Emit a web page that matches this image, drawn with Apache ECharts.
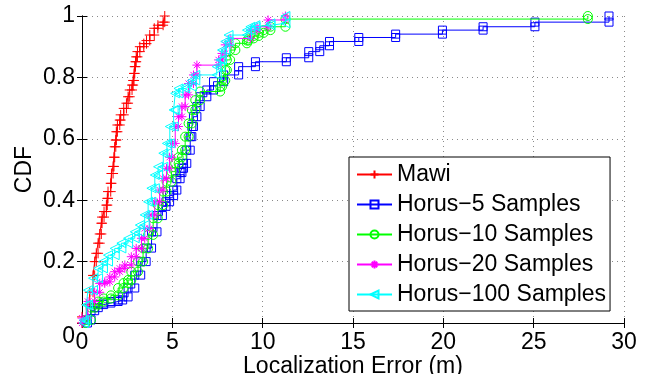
<!DOCTYPE html>
<html>
<head>
<meta charset="utf-8">
<script src="https://cdn.jsdelivr.net/npm/echarts@6/dist/echarts.min.js"></script>
<style>
html,body{margin:0;padding:0;background:#fff;}
#c{width:647px;height:374px;}
</style>
</head>
<body>
<div id="c"></div>
<script>
var seriesNames = ['Mawi', 'Horus\u22125 Samples', 'Horus\u221210 Samples', 'Horus\u221220 Samples', 'Horus\u2212100 Samples'];
var xTicks = [0, 5, 10, 15, 20, 25, 30];
var yTicks = [0, 0.2, 0.4, 0.6, 0.8, 1];

var mawiX = [0, 0.24, 0.43, 0.61, 0.70, 0.79, 0.89, 0.98, 1.07, 1.11, 1.22, 1.35, 1.40, 1.44, 1.59, 1.63, 1.72, 1.77, 1.81, 1.87, 1.90, 1.96, 2.09, 2.14, 2.31, 2.46, 2.55, 2.64, 2.77, 2.83, 2.88, 2.92, 2.96, 3.0, 3.07, 3.2, 3.42, 3.57, 3.75, 4.0, 4.2, 4.49, 4.58];
var mawiY = [0.02, 0.06, 0.10, 0.155, 0.20, 0.227, 0.26, 0.29, 0.325, 0.345, 0.363, 0.384, 0.406, 0.428, 0.455, 0.487, 0.51, 0.54, 0.574, 0.596, 0.623, 0.645, 0.661, 0.678, 0.699, 0.716, 0.737, 0.759, 0.775, 0.79, 0.813, 0.835, 0.851, 0.867, 0.884, 0.90, 0.91, 0.92, 0.938, 0.96, 0.97, 0.98, 1.0];

var h5X = [0.3, 0.5, 0.7, 0.9, 1.2, 1.6, 2.0, 2.25, 2.55, 2.92, 3.25, 3.55, 3.85, 4.15, 4.45, 4.65, 4.85, 5.07, 5.25, 5.43, 5.53, 5.62, 5.8, 5.99, 6.08, 6.17, 6.36, 6.54, 6.91, 7.28, 7.84, 8.67, 9.6, 11.31, 12.55, 13.16, 13.7, 15.32, 17.36, 19.95, 22.2, 25.07, 29.17];
var h5Y = [0.01, 0.04, 0.05, 0.06, 0.065, 0.07, 0.075, 0.085, 0.114, 0.156, 0.2, 0.244, 0.297, 0.35, 0.38, 0.395, 0.415, 0.433, 0.47, 0.49, 0.504, 0.52, 0.563, 0.607, 0.64, 0.672, 0.705, 0.737, 0.759, 0.786, 0.808, 0.835, 0.851, 0.864, 0.884, 0.903, 0.917, 0.93, 0.941, 0.954, 0.965, 0.98, 1.0];

var h10X = [0.2, 0.5, 0.7, 0.9, 1.2, 1.6, 2.0, 2.3, 2.55, 2.73, 3.1, 3.38, 3.66, 3.94, 4.2, 4.49, 4.68, 4.95, 5.16, 5.35, 5.53, 5.71, 5.9, 6.08, 6.27, 6.54, 7.65, 7.75, 7.93, 8.02, 8.2, 8.49, 9.13, 9.22, 9.5, 9.78, 10.05, 10.43, 11.26, 28.0];
var h10Y = [0.01, 0.05, 0.06, 0.07, 0.08, 0.09, 0.114, 0.13, 0.14, 0.167, 0.2, 0.243, 0.287, 0.341, 0.384, 0.428, 0.46, 0.493, 0.52, 0.54, 0.563, 0.607, 0.65, 0.694, 0.726, 0.754, 0.77, 0.79, 0.824, 0.857, 0.889, 0.911, 0.92, 0.927, 0.935, 0.945, 0.954, 0.965, 0.99, 1.0];

var h20X = [0.0, 0.33, 0.7, 0.98, 1.26, 1.54, 1.81, 2.09, 2.37, 2.73, 3.0, 3.29, 3.47, 3.75, 4.03, 4.3, 4.49, 4.68, 4.85, 4.97, 5.16, 5.34, 5.53, 5.71, 5.9, 6.17, 6.36, 7.56, 7.75, 7.93, 8.2, 9.32, 9.69, 10.3, 11.26];
var h20Y = [0.016, 0.07, 0.1, 0.129, 0.134, 0.15, 0.167, 0.178, 0.189, 0.216, 0.243, 0.276, 0.308, 0.352, 0.395, 0.433, 0.471, 0.504, 0.54, 0.585, 0.64, 0.672, 0.705, 0.743, 0.78, 0.808, 0.84, 0.857, 0.878, 0.906, 0.927, 0.954, 0.965, 0.987, 1.0];

var h100X = [0.1, 0.24, 0.33, 0.61, 0.89, 1.16, 1.44, 1.81, 2.18, 2.55, 2.92, 3.2, 3.47, 3.66, 3.84, 4.03, 4.21, 4.5, 4.7, 4.86, 5.07, 5.16, 5.34, 5.71, 6.08, 6.27, 7.46, 7.65, 7.75, 7.93, 8.11, 9.13, 9.32, 9.6, 10.43, 11.26];
var h100Y = [0.01, 0.059, 0.107, 0.146, 0.178, 0.2, 0.221, 0.243, 0.26, 0.276, 0.297, 0.319, 0.352, 0.395, 0.439, 0.482, 0.509, 0.553, 0.585, 0.64, 0.694, 0.748, 0.764, 0.77, 0.79, 0.808, 0.835, 0.857, 0.889, 0.917, 0.938, 0.954, 0.965, 0.97, 0.976, 1.0];

var colors = ['#ff0000', '#0000ff', '#00ff00', '#ff00ff', '#00ffff'];
var symbols = [
  'path://M0,5L10,5M5,0L5,10',
  'rect',
  'circle',
  'path://M5,0L5,10M0,5L10,5M1.6,1.6L8.4,8.4M1.6,8.4L8.4,1.6',
  'path://M0,5L10,0L10,10Z'
];
var sizes = [10, 8, 9, 9, 9];

// CDF stairs: each step adds a vertex at the old and the new level
function stairs(xs, ys) {
  var pts = [];
  for (var i = 0; i < xs.length; i++) {
    pts.push([xs[i], i === 0 ? 0 : ys[i - 1]]);
    pts.push([xs[i], ys[i]]);
  }
  return pts;
}

var allX = [mawiX, h5X, h10X, h20X, h100X];
var allY = [mawiY, h5Y, h10Y, h20Y, h100Y];

var FONT = '"Liberation Sans", Arial, Helvetica, sans-serif';
var FS = 23;

var series = seriesNames.map(function (n, k) {
  return {
    name: n,
    type: 'line',
    xAxisIndex: 0,
    yAxisIndex: 0,
    data: stairs(allX[k], allY[k]),
    symbol: symbols[k],
    symbolSize: sizes[k],
    showAllSymbol: true,
    animation: false,
    lineStyle: { color: colors[k], width: 1 },
    itemStyle: { color: 'rgba(0,0,0,0)', borderColor: colors[k], borderWidth: 1 },
    emphasis: { disabled: true },
    z: 2 + k
  };
});

var chart = echarts.init(document.getElementById('c'), null, { renderer: 'canvas' });
chart.setOption({
  backgroundColor: '#fff',
  animation: false,
  textStyle: { fontFamily: FONT },
  grid: { left: 82, right: 23, top: 16, bottom: 51, containLabel: false, outerBoundsMode: 'none' },
  legend: {
    data: seriesNames,
    orient: 'vertical',
    left: 349,
    top: 157,
    itemWidth: 35,
    itemHeight: 10,
    itemGap: 7,
    padding: [6, 4, 5, 7],
    backgroundColor: '#fff',
    borderColor: '#000',
    borderWidth: 1,
    borderRadius: 0,
    textStyle: { fontSize: FS, color: '#000', fontFamily: FONT },
    z: 20
  },
  xAxis: [{
    type: 'value', min: 0, max: 30, interval: 5, position: 'bottom',
    name: 'Localization Error (m)', nameLocation: 'middle', nameGap: 32, nameMoveOverlap: false,
    nameTextStyle: { fontSize: FS, color: '#000', fontFamily: FONT },
    axisLine: { show: true, lineStyle: { color: '#000', width: 1 } },
    axisTick: { show: true, inside: true, length: 5, lineStyle: { color: '#000' } },
    axisLabel: { fontSize: FS, color: '#000', margin: 8, fontFamily: FONT,
      formatter: function (v) { return xTicks.indexOf(v) >= 0 ? String(v) : ''; } },
    splitLine: { show: true, lineStyle: { color: '#8a8a8a', type: [1, 4], width: 1 } }
  }, {
    type: 'value', min: 0, max: 30, interval: 5, position: 'top',
    axisLine: { show: true, lineStyle: { color: '#000', width: 1 } },
    axisTick: { show: true, inside: true, length: 5, lineStyle: { color: '#000' } },
    axisLabel: { show: false }, splitLine: { show: false }
  }],
  yAxis: [{
    type: 'value', min: 0, max: 1, interval: 0.2, position: 'left',
    name: 'CDF', nameLocation: 'middle', nameGap: 46, nameRotate: 90, nameMoveOverlap: false,
    nameTextStyle: { fontSize: FS, color: '#000', fontFamily: FONT },
    axisLine: { show: true, lineStyle: { color: '#000', width: 1 } },
    axisTick: { show: true, inside: true, length: 5, lineStyle: { color: '#000' } },
    axisLabel: { fontSize: FS, color: '#000', margin: 7, fontFamily: FONT,
      formatter: function (v) {
        var r = Math.round(v * 10) / 10;
        if (r === 0) return '{z|0}';
        for (var i = 0; i < yTicks.length; i++) { if (Math.abs(yTicks[i] - r) < 1e-9) return String(yTicks[i]); }
        return '';
      },
      rich: { z: { fontSize: FS, color: '#000', fontFamily: FONT, padding: [28, 0, 0, 0] } } },
    splitLine: { show: true, lineStyle: { color: '#8a8a8a', type: [1, 4], width: 1 } }
  }, {
    type: 'value', min: 0, max: 1, interval: 0.2, position: 'right',
    axisLine: { show: true, lineStyle: { color: '#000', width: 1 } },
    axisTick: { show: true, inside: true, length: 5, lineStyle: { color: '#000' } },
    axisLabel: { show: false }, splitLine: { show: false }
  }],
  series: series
});
</script>
</body>
</html>
